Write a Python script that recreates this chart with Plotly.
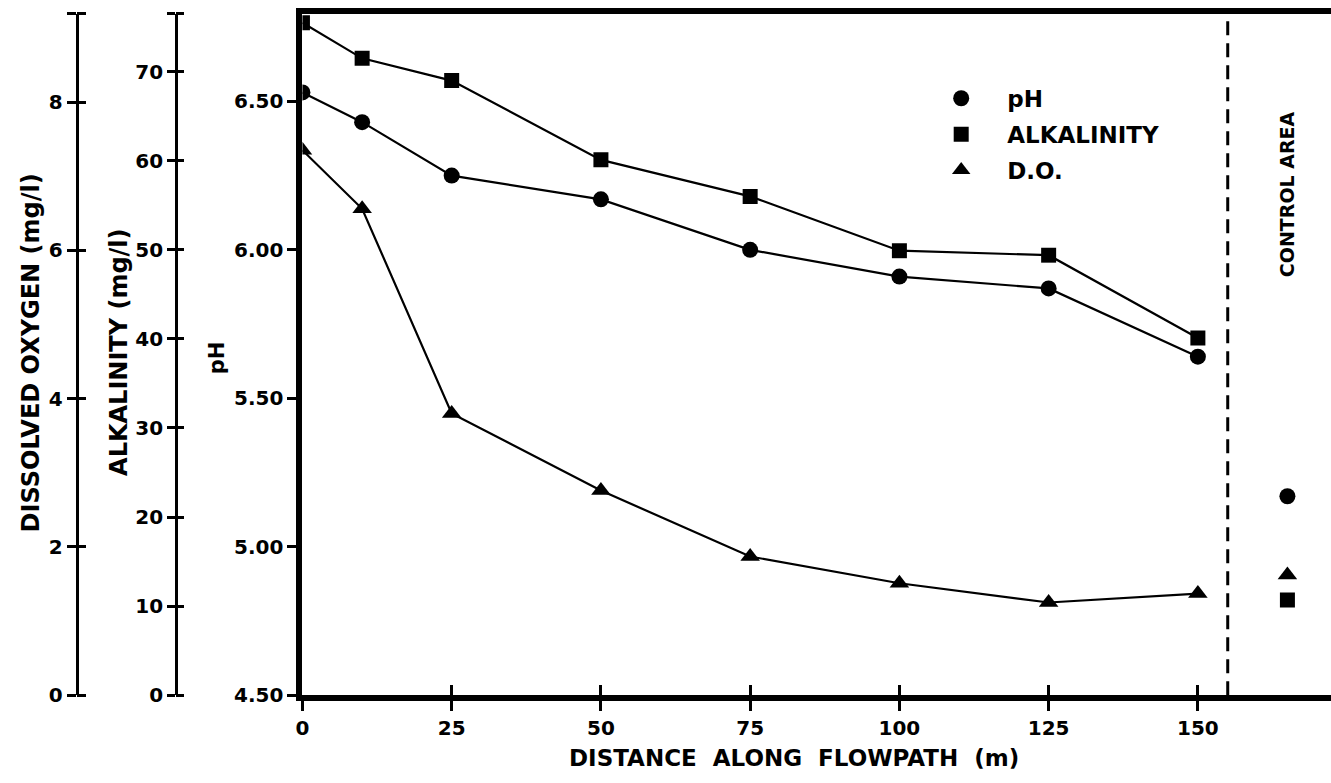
import plotly.graph_objects as go

# Water-chemistry profile along the flowpath
distance = [0, 10, 25, 50, 75, 100, 125, 150]
ph = [6.53, 6.43, 6.25, 6.17, 6.00, 5.91, 5.87, 5.64]
alkalinity = [75.5, 71.5, 69.0, 60.1, 56.0, 49.9, 49.4, 40.1]
dissolved_oxygen = [7.35, 6.56, 3.80, 2.76, 1.87, 1.51, 1.25, 1.37]

# Control-area samples (plotted beyond the flowpath boundary)
control_distance = [165]
control_ph = [5.17]
control_alkalinity = [10.7]
control_do = [1.62]
control_boundary = 155

# Axis ticks
x_ticks = [0, 25, 50, 75, 100, 125, 150]
ph_ticks = [4.50, 5.00, 5.50, 6.00, 6.50]
alk_ticks = [0, 10, 20, 30, 40, 50, 60, 70]
do_ticks = [0, 2, 4, 6, 8]

W, H = 1331, 783
FONT = "DejaVu Sans"
BLACK = "#000000"

X_RANGE = [0, 172.3]
PH_RANGE = [4.5, 6.795]
ALK_RANGE = [0, 76.5]
DO_RANGE = [0, 9.19]

ALK_AXIS_X = 170   # pixel column of the alkalinity scale
DO_AXIS_X = 70     # pixel column of the dissolved-oxygen scale
ALK_TICK = 8
DO_TICK = 9


def px(p):
    return p / W


def py(p):
    return 1 - p / H


plot_left = px(297)
y_domain = [py(706), py(14)]

fig = go.Figure()

line_style = dict(color=BLACK, width=2.2)

fig.add_trace(go.Scatter(
    x=distance, y=alkalinity, mode="lines+markers", yaxis="y2",
    line=line_style, marker=dict(symbol="square", size=15, color=BLACK),
    showlegend=False))
fig.add_trace(go.Scatter(
    x=distance, y=ph, mode="lines+markers", yaxis="y",
    line=line_style, marker=dict(symbol="circle", size=16, color=BLACK),
    showlegend=False))
fig.add_trace(go.Scatter(
    x=distance, y=dissolved_oxygen, mode="lines+markers", yaxis="y3",
    line=line_style, marker=dict(symbol="triangle-up", size=17, color=BLACK),
    showlegend=False))

# Control-area points double as the legend entries
fig.add_trace(go.Scatter(
    x=control_distance, y=control_ph, mode="markers", yaxis="y",
    marker=dict(symbol="circle", size=16, color=BLACK),
    name="pH", legendgroup="a"))
fig.add_trace(go.Scatter(
    x=control_distance, y=control_alkalinity, mode="markers", yaxis="y2",
    marker=dict(symbol="square", size=15, color=BLACK),
    name="ALKALINITY", legendgroup="b"))
fig.add_trace(go.Scatter(
    x=control_distance, y=control_do, mode="markers", yaxis="y3",
    marker=dict(symbol="triangle-up", size=17, color=BLACK),
    name="D.O.", legendgroup="c"))

# Empty traces so the tick-only companion axes get drawn
for xa, ya in [("x2", "y"), ("x", "y4"), ("x", "y5")]:
    fig.add_trace(go.Scatter(x=[None], y=[None], xaxis=xa, yaxis=ya,
                             mode="markers", showlegend=False,
                             hoverinfo="skip"))

tick_font = dict(family=FONT, size=20, color=BLACK, weight="bold")

common_y = dict(domain=y_domain, showgrid=False, zeroline=False,
                fixedrange=True)

fig.update_layout(
    width=W, height=H,
    margin=dict(l=0, r=0, t=0, b=0),
    paper_bgcolor="white", plot_bgcolor="white",
    font=dict(family=FONT, color=BLACK, weight="bold"),
    xaxis=dict(
        domain=[plot_left, 1], range=X_RANGE, anchor="y",
        tickvals=x_ticks, ticks="outside", ticklen=10, tickwidth=3,
        tickcolor=BLACK, tickfont=tick_font,
        showline=True, linewidth=6, linecolor=BLACK, mirror=True,
        showgrid=False, zeroline=False, fixedrange=True),
    xaxis2=dict(
        domain=[plot_left, 1], range=X_RANGE, overlaying="x", anchor="y",
        side="bottom", tickvals=x_ticks, ticks="inside", ticklen=10,
        tickwidth=3, tickcolor=BLACK, showticklabels=False,
        showline=False, showgrid=False, zeroline=False, fixedrange=True),
    yaxis=dict(
        **common_y, range=PH_RANGE, anchor="x",
        tickvals=ph_ticks, ticktext=[f"{v:.2f}" for v in ph_ticks],
        ticks="outside", ticklen=9, tickwidth=3, tickcolor=BLACK,
        tickfont=tick_font, showline=True, linewidth=6, linecolor=BLACK),
    # alkalinity scale: line, left tick halves and labels
    yaxis2=dict(
        **common_y, range=ALK_RANGE, overlaying="y", anchor="free",
        position=px(ALK_AXIS_X), side="left",
        tickvals=alk_ticks + [ALK_RANGE[1]],
        ticktext=[str(v) for v in alk_ticks] + [""],
        ticks="outside", ticklen=ALK_TICK, tickwidth=3, tickcolor=BLACK,
        tickfont=tick_font, showline=True, linewidth=3, linecolor=BLACK),
    # alkalinity scale: right tick halves
    yaxis4=dict(
        **common_y, range=ALK_RANGE, overlaying="y", anchor="free",
        position=px(ALK_AXIS_X + ALK_TICK), side="left",
        tickvals=alk_ticks + [ALK_RANGE[1]], ticks="outside",
        ticklen=ALK_TICK, tickwidth=3, tickcolor=BLACK,
        showticklabels=False, showline=False),
    # dissolved-oxygen scale: line, left tick halves and labels
    yaxis3=dict(
        **common_y, range=DO_RANGE, overlaying="y", anchor="free",
        position=px(DO_AXIS_X), side="left",
        tickvals=do_ticks + [DO_RANGE[1]],
        ticktext=[str(v) for v in do_ticks] + [""],
        ticks="outside", ticklen=DO_TICK, tickwidth=3, tickcolor=BLACK,
        tickfont=tick_font, showline=True, linewidth=3, linecolor=BLACK),
    # dissolved-oxygen scale: right tick halves
    yaxis5=dict(
        **common_y, range=DO_RANGE, overlaying="y", anchor="free",
        position=px(DO_AXIS_X + DO_TICK), side="left",
        tickvals=do_ticks + [DO_RANGE[1]], ticks="outside",
        ticklen=DO_TICK, tickwidth=3, tickcolor=BLACK,
        showticklabels=False, showline=False),
    legend=dict(
        x=px(913), y=py(78), xanchor="left", yanchor="top",
        bgcolor="rgba(0,0,0,0)", borderwidth=0,
        font=dict(family=FONT, size=23, color=BLACK, weight="bold"),
        itemwidth=82, tracegroupgap=3, traceorder="grouped"),
    showlegend=True,
)

# Boundary between the flowpath and the control area
fig.add_shape(type="line", xref="x", yref="y domain",
              x0=control_boundary, x1=control_boundary, y0=0, y1=1,
              line=dict(color=BLACK, width=3, dash="14px,8px"))

title_font = dict(family=FONT, size=24, color=BLACK, weight="bold")

fig.add_annotation(text="DISSOLVED OXYGEN (mg/l)", xref="paper", yref="paper",
                   x=px(24), y=py(358), textangle=-90, showarrow=False,
                   font=title_font, xanchor="center", yanchor="middle")
fig.add_annotation(text="ALKALINITY (mg/l)", xref="paper", yref="paper",
                   x=px(112), y=py(357), textangle=-90, showarrow=False,
                   font=title_font, xanchor="center", yanchor="middle")
fig.add_annotation(text="pH", xref="paper", yref="paper",
                   x=px(212), y=py(363), textangle=-90, showarrow=False,
                   font=dict(family=FONT, size=21, color=BLACK, weight="bold"),
                   xanchor="center", yanchor="middle")
fig.add_annotation(text="DISTANCE  ALONG  FLOWPATH  (m)", xref="paper",
                   yref="paper", x=px(791), y=py(770), showarrow=False,
                   font=dict(family=FONT, size=23, color=BLACK, weight="bold"),
                   xanchor="center", yanchor="middle")
fig.add_annotation(text="CONTROL AREA", xref="paper", yref="paper",
                   x=px(1287), y=py(197), textangle=-90, showarrow=False,
                   font=dict(family=FONT, size=19, color=BLACK, weight="bold"),
                   xanchor="center", yanchor="middle")

fig.write_html("out.html")
